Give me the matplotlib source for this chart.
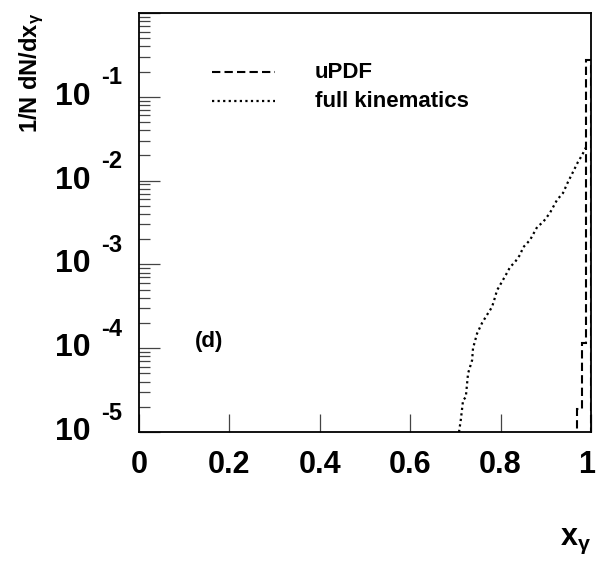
import matplotlib.pyplot as plt
import matplotlib.transforms as mtransforms

plt.rcParams['font.family'] = 'Liberation Sans'
plt.rcParams['mathtext.fontset'] = 'custom'
plt.rcParams['mathtext.rm'] = 'Liberation Sans:bold'
plt.rcParams['mathtext.it'] = 'Liberation Sans:bold'
plt.rcParams['mathtext.bf'] = 'Liberation Sans:bold'

# uPDF histogram (bin edges and contents)
updf_edges = [0.969, 0.980, 0.989, 1.0]
updf_vals = [1.9e-5, 1.15e-4, 0.275]

# full kinematics curve
full_x = [0.708, 0.712, 0.717, 0.723, 0.728, 0.737, 0.739, 0.748, 0.759, 0.770,
          0.781, 0.788, 0.792, 0.803, 0.814, 0.821, 0.832, 0.843, 0.850, 0.865,
          0.881, 0.894, 0.909, 0.925, 0.938, 0.949, 0.960, 0.971, 0.980, 0.989]
full_y = [1.0e-5, 1.4e-5, 2.4e-5, 2.6e-5, 5.0e-5, 7.2e-5, 1.0e-4, 1.5e-4, 2.0e-4, 2.5e-4,
          3.1e-4, 4.1e-4, 4.9e-4, 6.2e-4, 7.9e-4, 9.3e-4, 1.07e-3, 1.3e-3, 1.6e-3, 1.95e-3,
          2.8e-3, 3.2e-3, 4.1e-3, 5.9e-3, 7.1e-3, 9.6e-3, 1.26e-2, 1.66e-2, 2.0e-2, 2.5e-2]

xticks = [0, 0.2, 0.4, 0.6, 0.8, 1]
xticklabels = ['0', '0.2', '0.4', '0.6', '0.8', '1']
decades = [-5, -4, -3, -2, -1]

dashed = (0, (4, 2))
dotted = (0, (1, 1.5))

fig = plt.figure(figsize=(5.96, 5.62), dpi=100)
ax = fig.add_axes([0.2332, 0.2313, 0.7584, 0.7456])

ax.stairs(updf_vals, updf_edges, baseline=1e-6, color='k', lw=1.5, ls=dashed)
ax.plot(full_x, full_y, color='k', lw=1.6, ls=dotted)

ax.set_yscale('log')
ax.set_xlim(0, 1)
ax.set_ylim(1e-5, 1)

for s in ax.spines.values():
    s.set_linewidth(1.3)

# y axis: ticks inward, labels drawn by hand (ROOT style)
ax.yaxis.set_major_locator(plt.LogLocator(base=10))
ax.yaxis.set_minor_locator(plt.LogLocator(base=10, subs=range(2, 10), numticks=20))
ax.tick_params(axis='y', which='major', direction='in', length=15, width=0.9,
               color='#444', labelleft=False)
ax.tick_params(axis='y', which='minor', direction='in', length=8, width=0.9,
               color='#444')
for k in decades:
    ax.annotate('10', xy=(0, 10.0 ** k), xycoords=('axes fraction', 'data'),
                xytext=(-48, 0), textcoords='offset pixels', ha='right', va='center',
                fontsize=23, fontweight='bold')
    ax.annotate(str(k), xy=(0, 10.0 ** k), xycoords=('axes fraction', 'data'),
                xytext=(-38, 19), textcoords='offset pixels', ha='left', va='center',
                fontsize=17, fontweight='bold')

ax.set_xticks(xticks)
ax.set_xticklabels(xticklabels, fontsize=22, fontweight='bold')
ax.tick_params(axis='x', which='major', direction='in', length=13, width=0.9,
               color='#444', pad=13)
ax.tick_params(axis='x', which='minor', bottom=False)
# nudge the "1" so it stays inside the picture
last = ax.get_xticklabels()[-1]
last.set_transform(last.get_transform() +
                   mtransforms.ScaledTranslation(-4 / 100, 0, fig.dpi_scale_trans))

# legend
ax.plot([0.1615, 0.301], [0.859, 0.859], transform=ax.transAxes, color='k', lw=1.5, ls=dashed)
ax.plot([0.1615, 0.301], [0.789, 0.789], transform=ax.transAxes, color='k', lw=1.6, ls=dotted)
ax.text(0.389, 0.859, 'uPDF', transform=ax.transAxes, va='center', fontsize=16,
        fontweight='bold')
ax.text(0.389, 0.789, 'full kinematics', transform=ax.transAxes, va='center', fontsize=16,
        fontweight='bold')

ax.text(0.124, 0.215, '(d)', transform=ax.transAxes, va='center', fontsize=16,
        fontweight='bold')

fig.text(32 / 596, 1 - 13 / 562, r'1/N dN/dx$_{\gamma}$', rotation=90,
         ha='center', va='top', fontsize=17, fontweight='bold')
fig.text(591 / 596, 1 - 541 / 562, r'x$_{\gamma}$', ha='right', va='center',
         fontsize=22, fontweight='bold')

fig.savefig('out.png', dpi=100)
